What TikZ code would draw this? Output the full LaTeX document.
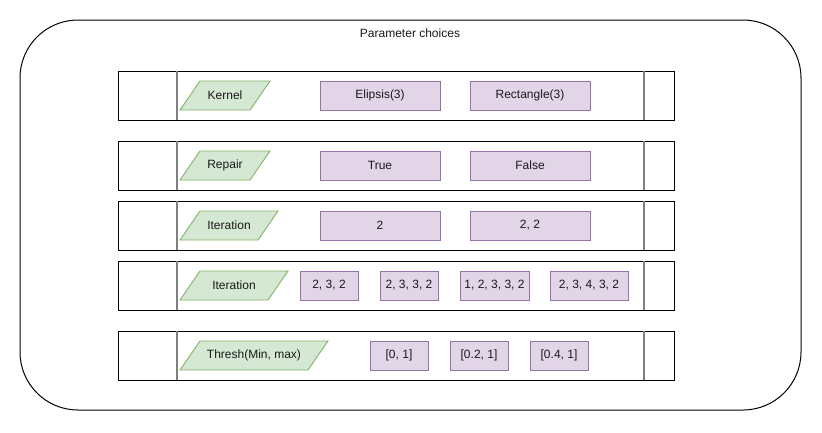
\documentclass[tikz,border=0pt]{standalone}
\usepackage{fontspec}
\setmainfont{Liberation Sans}
\definecolor{pfill}{HTML}{E1D5E7}
\definecolor{pdraw}{HTML}{9673A6}
\definecolor{gfill}{HTML}{D5E8D4}
\definecolor{gdraw}{HTML}{82B366}
\definecolor{txt}{HTML}{1A1A1A}
\begin{document}
\begin{tikzpicture}[x=1pt,y=-1pt,
  every node/.style={font=\fontsize{12}{14}\selectfont, text=txt},
  rowbox/.style={draw=black, line width=1pt},
  rowsep/.style={draw=gray, line width=1.6pt},
  valbox/.style={draw=pdraw, fill=pfill, line width=0.9pt},
  parbox/.style={draw=gdraw, fill=gfill, line width=0.9pt}]
\useasboundingbox (0,0) rectangle (822,432);
\draw[line width=1pt, rounded corners=58pt] (20,20) rectangle (801,410);
\node (title) at (410,33) {Parameter choices};

% rows
\foreach \t/\b in {71/120, 141/190, 201/250, 261/310, 331/380}{
  \draw[rowbox] (118,\t) rectangle (674,\b);
  \draw[rowsep] (177,\t) -- (177,\b);
  \draw[rowsep] (644,\t) -- (644,\b);
}

% parameter parallelograms
\newcommand{\para}[6]{% name, xl, xr, yt, yb, text
  \draw[parbox] (#2,#5) -- (#2+20,#4) -- (#3,#4) -- (#3-20,#5) -- cycle;
  \node (#1) at ({(#2+#3)/2},{(#4+#5)/2}) {#6};
}
\para{kernel}{180}{270}{81}{110}{Kernel}
\para{repair}{180}{270}{151}{180}{Repair}
\para{iterA}{180}{278}{211}{240}{Iteration}
\para{iterB}{180}{288}{271}{300}{Iteration}
\para{thresh}{180}{328}{341}{370}{Thresh(Min, max)}

% values
\newcommand{\val}[6]{%
  \draw[valbox] (#2,#4) rectangle (#3,#5);
  \node (#1) at ({(#2+#3)/2},{(#4+#5)/2}) {#6};
}
\val{k1}{320}{440}{81}{110}{Elipsis(3)}
\val{k2}{470}{590}{81}{110}{Rectangle(3)}
\val{r1}{320}{440}{151}{180}{True}
\val{r2}{470}{590}{151}{180}{False}
\val{i1}{320}{440}{211}{240}{2}
\val{i2}{470}{590}{211}{240}{2, 2}
\val{j1}{300}{358}{271}{300}{2, 3, 2}
\val{j2}{380}{438}{271}{300}{2, 3, 3, 2}
\val{j3}{460}{529}{271}{300}{1, 2, 3, 3, 2}
\val{j4}{550}{628}{271}{300}{2, 3, 4, 3, 2}
\val{t1}{370}{428}{341}{370}{[0, 1]}
\val{t2}{450}{508}{341}{370}{[0.2, 1]}
\val{t3}{530}{588}{341}{370}{[0.4, 1]}
\end{tikzpicture}
\end{document}
